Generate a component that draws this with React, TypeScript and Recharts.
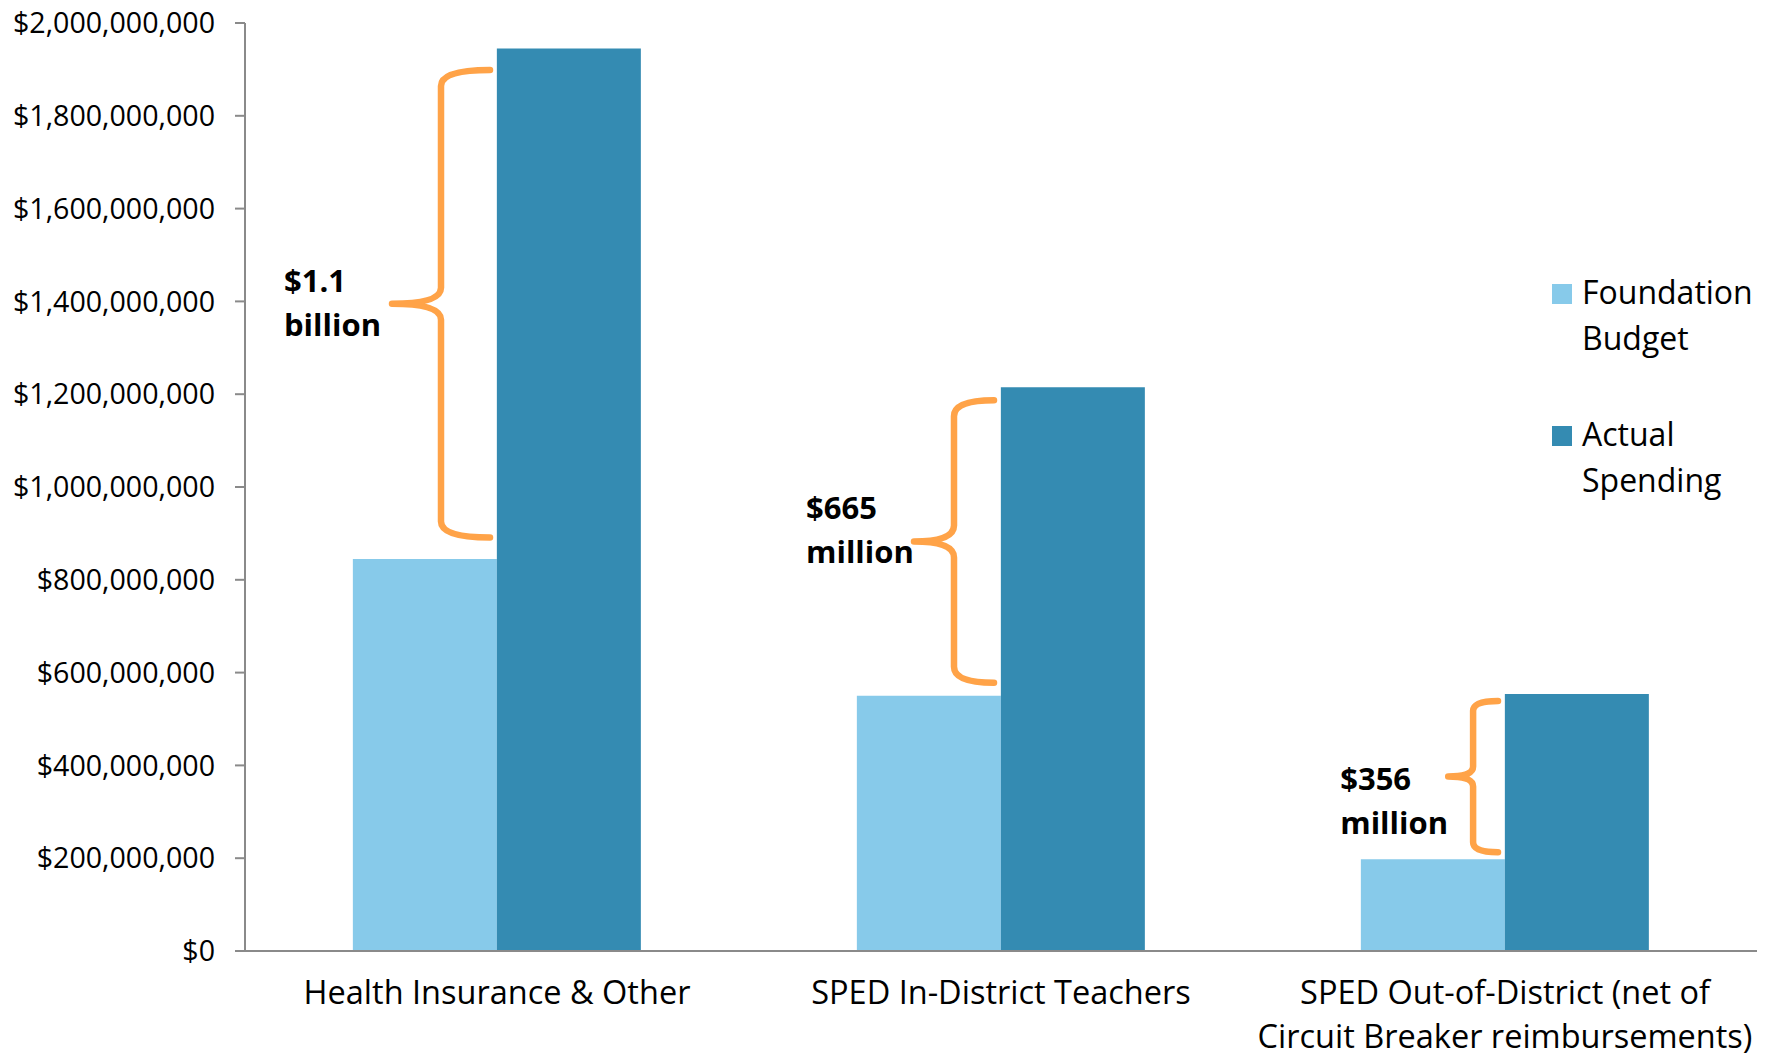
import {
  Bar,
  BarChart,
  Legend,
  ReferenceArea,
  XAxis,
  YAxis
} from 'recharts';

const categories = [
  'Health Insurance & Other',
  'SPED In-District Teachers',
  'SPED Out-of-District (net of Circuit Breaker reimbursements)',
];
const foundationBudget = [845000000, 550000000, 198000000];
const actualSpending = [1945000000, 1215000000, 554000000];
const gapLabels = [
  ['$1.1', 'billion'],
  ['$665', 'million'],
  ['$356', 'million'],
];
const yTicks = [0, 200000000, 400000000, 600000000, 800000000, 1000000000, 1200000000, 1400000000, 1600000000, 1800000000, 2000000000];

const data = categories.map((category, i) => ({
  category,
  foundation: foundationBudget[i],
  actual: actualSpending[i],
}));

const LIGHT = '#87CAEA';
const DARK = '#348BB2';
const ORANGE = '#FFA348';
const FONT = "'Open Sans', sans-serif";

// vertical nudge of each brace label (the last one sits lower)
const labelShift = [2, -9, 27];

const wrap = (text: string, max: number) => {
  const lines: string[] = [];
  let cur = '';
  text.split(' ').forEach((w) => {
    if (cur && (cur + ' ' + w).length > max) {
      lines.push(cur);
      cur = w;
    } else {
      cur = cur ? cur + ' ' + w : w;
    }
  });
  if (cur) lines.push(cur);
  return lines;
};

const CategoryTick = ({ x, y, payload }: any) => {
  const lines = wrap(payload.value, 32);
  return (
    <text x={x} y={y} textAnchor="middle" fill="#000" fontSize={32.5} fontFamily={FONT}>
      {lines.map((l, i) => (
        <tspan key={i} x={x} dy={i === 0 ? 53 : 44}>{l}</tspan>
      ))}
    </text>
  );
};

const Brace = ({ x, y, width, height, label, shift }: any) => {
  const cx = x + width / 2;
  const xe = cx - 7;
  const inset = height * 0.042;
  const yt = y + inset;
  const yb = y + height - inset;
  const h = yb - yt;
  const w = Math.min(98, 15 + 0.23 * h);
  const xv = xe - w / 2;
  const xt = xe - w;
  const ym = (yt + yb) / 2;
  const r = Math.min(16, (w / 2) * 0.4);
  const d = [
    `M ${xe} ${yt}`,
    `Q ${xv} ${yt} ${xv} ${yt + r}`,
    `L ${xv} ${ym - r}`,
    `Q ${xv} ${ym} ${xt} ${ym}`,
    `Q ${xv} ${ym} ${xv} ${ym + r}`,
    `L ${xv} ${yb - r}`,
    `Q ${xv} ${yb} ${xe} ${yb}`,
  ].join(' ');
  const ty = ym - 14 + shift;
  const tx = xt - 108;
  return (
    <g>
      <path d={d} fill="none" stroke={ORANGE} strokeWidth={6.5} strokeLinecap="round" strokeLinejoin="round" />
      <text x={tx} y={ty} fill="#000" fontSize={31} fontWeight="bold" fontFamily={FONT}>
        <tspan x={tx}>{label[0]}</tspan>
        <tspan x={tx} dy={44}>{label[1]}</tspan>
      </text>
    </g>
  );
};

const LegendContent = () => {
  const items = [
    { name: 'Foundation Budget', color: LIGHT },
    { name: 'Actual Spending', color: DARK },
  ];
  return (
    <div style={{ fontFamily: FONT, fontSize: 32, color: '#000' }}>
      {items.map((it, i) => (
        <div key={it.name} style={{ display: 'flex', alignItems: 'flex-start', marginTop: i === 0 ? 0 : 50 }}>
          <div style={{ width: 20, height: 20, background: it.color, marginTop: 15, marginRight: 10, flexShrink: 0 }} />
          <div style={{ lineHeight: '46px' }}>
            {it.name.split(' ').map((wd) => (
              <div key={wd}>{wd}</div>
            ))}
          </div>
        </div>
      ))}
    </div>
  );
};

const App = () => {
  return (
    <div style={{ position: 'absolute', left: 0, top: 0, width: 1770, height: 1057, background: '#fff', fontFamily: FONT }}>
      <BarChart
        width={1770}
        height={1057}
        data={data}
        margin={{ top: 23, right: 13, bottom: 0, left: 0 }}
        barGap={0}
        barCategoryGap="21.4%"
      >
        <XAxis
          dataKey="category"
          height={106}
          tickLine={false}
          tickSize={0}
          tickMargin={0}
          axisLine={{ stroke: '#8a8a8a', strokeWidth: 2 }}
          tick={<CategoryTick />}
          interval={0}
        />
        <YAxis
          width={245}
          domain={[0, 2000000000]}
          ticks={yTicks}
          interval={0}
          tickSize={10}
          tickMargin={20}
          tickLine={{ stroke: '#8a8a8a', strokeWidth: 2 }}
          axisLine={{ stroke: '#8a8a8a', strokeWidth: 2 }}
          tick={{ fill: '#000', fontSize: 28.6, fontFamily: FONT }}
          tickFormatter={(v: number) => `$${v.toLocaleString('en-US')}`}
        />
        <Legend
          layout="horizontal"
          verticalAlign="middle"
          align="center"
          content={<LegendContent />}
          wrapperStyle={{ position: 'absolute', top: 269, left: 1552, width: 218 }}
        />
        <Bar dataKey="foundation" name="Foundation Budget" fill={LIGHT} isAnimationActive={false} />
        <Bar dataKey="actual" name="Actual Spending" fill={DARK} isAnimationActive={false} />
        {categories.map((c, i) => (
          <ReferenceArea
            key={c}
            x1={c}
            x2={c}
            y1={foundationBudget[i]}
            y2={actualSpending[i]}
            ifOverflow="visible"
            shape={(p: any) => <Brace {...p} label={gapLabels[i]} shift={labelShift[i]} />}
          />
        ))}
      </BarChart>
    </div>
  );
};

export default App;
